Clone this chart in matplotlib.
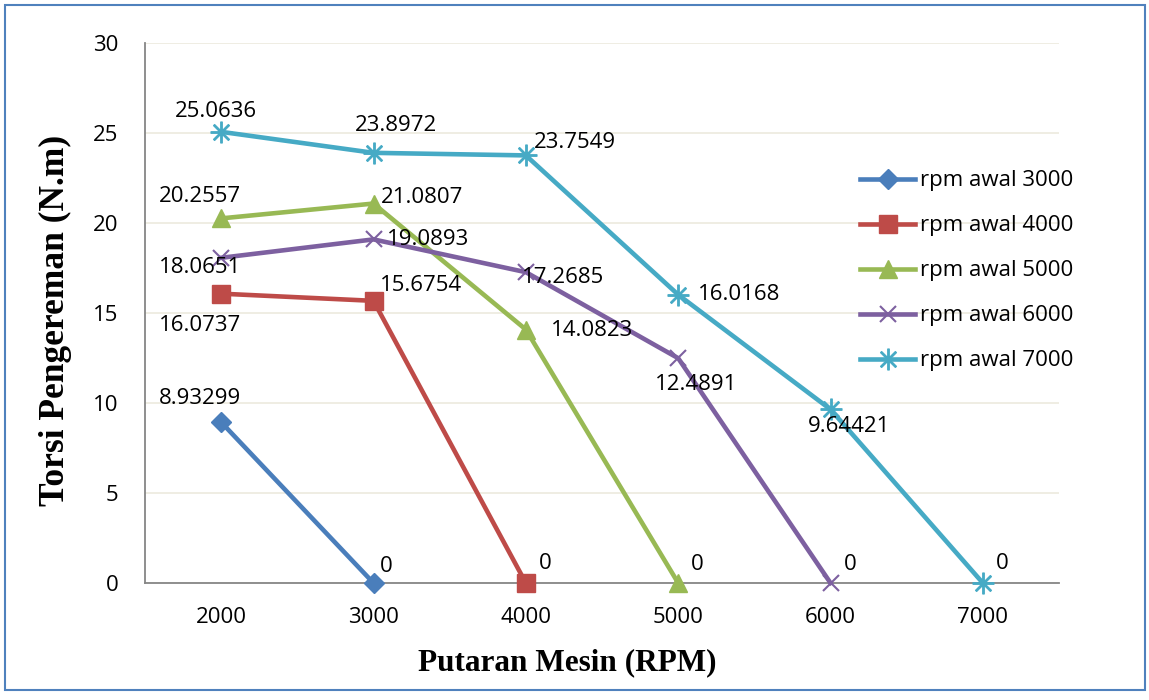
import matplotlib.pyplot as plt
from matplotlib.patches import Rectangle

rpm = ['2000', '3000', '4000', '5000', '6000', '7000']

awal_3000 = [8.93299, 0]
awal_4000 = [16.0737, 15.6754, 0]
awal_5000 = [20.2557, 21.0807, 14.0823, 0]
awal_6000 = [18.0651, 19.0893, 17.2685, 12.4891, 0]
awal_7000 = [25.0636, 23.8972, 23.7549, 16.0168, 9.64421, 0]

series = [
    ('rpm awal 3000', awal_3000, '#4A7EBB', 'D', 10),
    ('rpm awal 4000', awal_4000, '#BE4B48', 's', 12.5),
    ('rpm awal 5000', awal_5000, '#98B954', '^', 13),
    ('rpm awal 6000', awal_6000, '#7D60A0', 'x', 11.5),
    ('rpm awal 7000', awal_7000, '#46AAC5', '$\u2733$', 15),
]

# label offsets (points) for each data label, per series
offsets = [
    [(-15, 17), (9, 12)],
    [(-15, -23), (34, 11), (14, 14)],
    [(-15, 16), (35, 4), (48, -1), (14, 13)],
    [(-15, -7), (39, 0), (27, -4), (13, -19), (14, 13)],
    [(-4, 15), (16, 20), (35, 9), (44, 0), (13, -12), (14, 14)],
]

plt.rcParams['font.family'] = ['Open Sans', 'DejaVu Sans']

fig = plt.figure(figsize=(11.49, 7), dpi=100)
ax = fig.add_axes([0.1262, 0.1671, 0.7955, 0.7715])

for (name, vals, color, marker, ms), offs in zip(series, offsets):
    x = list(range(len(vals)))
    mew = 1.5 if marker == 'x' else 1.0
    ax.plot(x, vals, color=color, lw=3.3, marker=marker, markersize=ms,
            markeredgewidth=mew, label=name, clip_on=False, zorder=3)
    for xi, v, (dx, dy) in zip(x, vals, offs):
        ax.annotate('{:g}'.format(v), (xi, v), xytext=(dx, dy),
                    textcoords='offset points', ha='center', va='center',
                    fontsize=16, color='black', zorder=4)

ax.set_xlim(-0.5, 5.5)
ax.set_ylim(0, 30)
ax.set_yticks(range(0, 31, 5))
ax.set_xticks(range(len(rpm)))
ax.set_xticklabels(rpm)
ax.tick_params(length=0, labelsize=16)
ax.tick_params(axis='x', pad=17)
ax.tick_params(axis='y', pad=19)
ax.grid(axis='y', color='#EEECE1', lw=1.3)
ax.set_axisbelow(True)
for s in ['top', 'right']:
    ax.spines[s].set_visible(False)
for s in ['left', 'bottom']:
    ax.spines[s].set_color('#868686')
    ax.spines[s].set_linewidth(1.3)

ax.set_xlabel('Putaran Mesin (RPM)', family='Liberation Serif',
              fontweight='bold', fontsize=22.5, va='center')
ax.xaxis.set_label_coords(0.462, -0.148)
ax.set_ylabel('Torsi Pengereman (N.m)', family='Liberation Serif',
              fontweight='bold', fontsize=25.5, va='center')
ax.yaxis.set_label_coords(-0.098, 0.487)

leg = ax.legend(loc='upper left', bbox_to_anchor=(0.782, 0.764), frameon=False,
                fontsize=16, handlelength=2.5, handletextpad=0.2,
                labelspacing=1.08, borderaxespad=0, borderpad=0)

fig.patches.append(Rectangle((0.0044, 0.0143), 0.992, 0.9786,
                             transform=fig.transFigure, fill=False,
                             edgecolor='#4F81BD', lw=1.5))

fig.savefig('out.png', dpi=100)
